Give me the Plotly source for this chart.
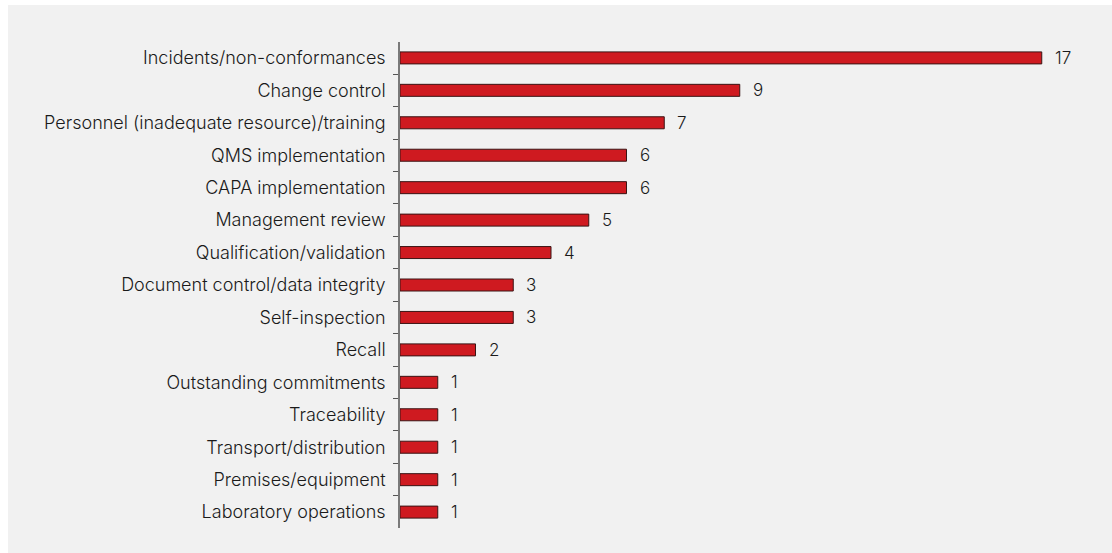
import plotly.graph_objects as go

categories = [
    "Incidents/non-conformances",
    "Change control",
    "Personnel (inadequate resource)/training",
    "QMS implementation",
    "CAPA implementation",
    "Management review",
    "Qualification/validation",
    "Document control/data integrity",
    "Self-inspection",
    "Recall",
    "Outstanding commitments",
    "Traceability",
    "Transport/distribution",
    "Premises/equipment",
    "Laboratory operations",
]
counts = [17, 9, 7, 6, 6, 5, 4, 3, 3, 2, 1, 1, 1, 1, 1]

FONT = "Inter, DejaVu Sans, Arial, sans-serif"
TEXT_COLOR = "#1a1a1a"
FONT_SIZE = 18
FONT_WEIGHT = 300

fig = go.Figure(
    go.Bar(
        x=counts,
        y=categories,
        orientation="h",
        width=0.37,
        marker=dict(color="#cf1a20", line=dict(color="#3a1414", width=1)),
        hoverinfo="x+y",
    )
)

# value labels to the right of each bar
for cat, val in zip(categories, counts):
    fig.add_annotation(
        x=val, y=cat, text=str(val), showarrow=False,
        xanchor="left", yanchor="middle", xshift=11,
        font=dict(family=FONT, size=17, color=TEXT_COLOR, weight=FONT_WEIGHT),
    )

fig.update_layout(
    width=1112,
    height=553,
    paper_bgcolor="#f1f1f1",
    plot_bgcolor="#f1f1f1",
    margin=dict(l=400, r=52, t=42, b=25),
    showlegend=False,
    font=dict(family=FONT, size=FONT_SIZE, color=TEXT_COLOR, weight=FONT_WEIGHT),
    shapes=[
        # white border strips at the top and left of the panel
        dict(type="rect", xref="paper", yref="paper",
             x0=-400 / 660, x1=(1112 - 400) / 660, y0=1 + 37 / 486, y1=1 + 42 / 486,
             fillcolor="white", line=dict(width=0), layer="below"),
        dict(type="rect", xref="paper", yref="paper",
             x0=-400 / 660, x1=-392 / 660, y0=-25 / 486, y1=1 + 42 / 486,
             fillcolor="white", line=dict(width=0), layer="below"),
    ],
)

fig.update_xaxes(
    range=[0, 660 / 37.75],
    visible=False,
    showgrid=False,
    zeroline=False,
)
# range trimmed a hair so the outer category boundaries get no tick marks
fig.update_yaxes(
    autorange=False,
    range=[len(categories) - 0.51, -0.49],
    categoryorder="array",
    categoryarray=categories,
    showline=True,
    linecolor="#7a7a7a",
    linewidth=1.5,
    ticks="outside",
    tickson="boundaries",
    ticklen=5,
    tickcolor="#555555",
    tickwidth=1,
    showgrid=False,
    ticklabelstandoff=9,
    tickfont=dict(family=FONT, size=FONT_SIZE, color=TEXT_COLOR, weight=FONT_WEIGHT),
)

fig.write_html("out.html")
